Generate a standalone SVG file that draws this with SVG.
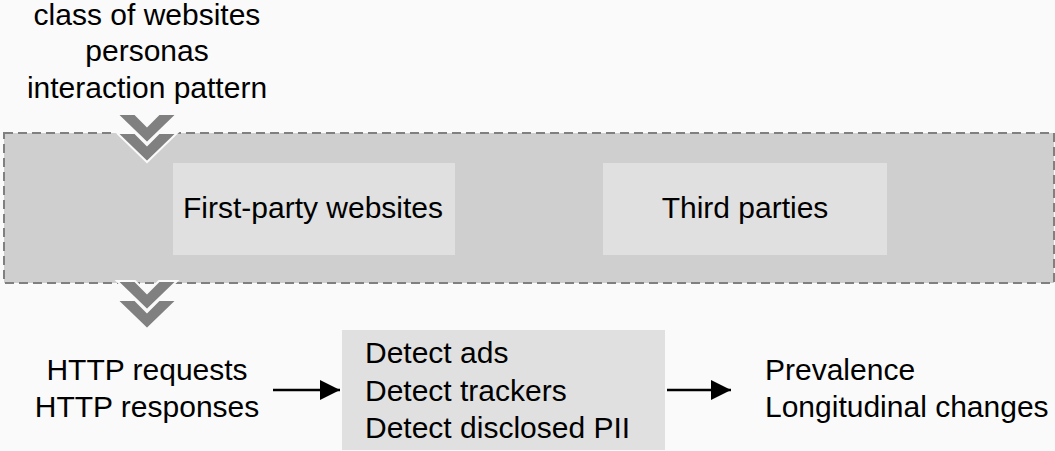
<svg xmlns="http://www.w3.org/2000/svg" width="1055" height="451" viewBox="0 0 1055 451">
<defs>
<style>
text{font-family:"Liberation Sans",Arial,sans-serif;font-size:30px;fill:#000}
.mid{text-anchor:middle}
.chev{fill:#808080;stroke:#fafafa;stroke-width:2}
.conn{stroke:#000;stroke-width:2.5;fill:none}
</style>
<marker id="ah" viewBox="0 0 10 10" refX="10" refY="5" markerWidth="20" markerHeight="20" markerUnits="userSpaceOnUse" orient="auto">
<path d="M0,0 L10,5 L0,10 Z" fill="#000"/>
</marker>
<polygon id="chevron" points="-30,0 -12,0 0,12 12,0 30,0 0,29"/>
</defs>
<rect width="1055" height="451" fill="#fafafa"/>
<g id="inputs">
<text class="mid" x="147" y="25">class of websites</text>
<text class="mid" x="147" y="61">personas</text>
<text class="mid" x="147" y="98">interaction pattern</text>
</g>
<g id="crawl">
<rect x="4" y="133" width="1050" height="150" fill="#cfcfcf" stroke="#808080" stroke-width="2" stroke-dasharray="9,5"/>
</g>
<g id="first-party">
<rect x="173" y="163" width="282" height="92" fill="#e0e0e0"/>
<text class="mid" x="313" y="218">First-party websites</text>
</g>
<g id="third-parties">
<rect x="603" y="163" width="284" height="92" fill="#e0e0e0"/>
<text class="mid" x="745" y="218">Third parties</text>
</g>
<g id="chevrons">
<use href="#chevron" class="chev" x="147" y="114"/>
<use href="#chevron" class="chev" x="147" y="133"/>
<use href="#chevron" class="chev" x="147" y="281"/>
<use href="#chevron" class="chev" x="147" y="300"/>
</g>
<g id="http">
<text class="mid" x="147" y="380">HTTP requests</text>
<text class="mid" x="147" y="417">HTTP responses</text>
</g>
<g id="detect">
<rect x="342" y="330" width="323" height="120" fill="#e0e0e0"/>
<text x="365" y="363">Detect ads</text>
<text x="365" y="401">Detect trackers</text>
<text x="365" y="438">Detect disclosed PII</text>
</g>
<g id="results">
<text x="765" y="380">Prevalence</text>
<text x="765" y="417">Longitudinal changes</text>
</g>
<g id="connectors">
<line class="conn" x1="273" y1="390" x2="340" y2="390" marker-end="url(#ah)"/>
<line class="conn" x1="667" y1="390" x2="731" y2="390" marker-end="url(#ah)"/>
</g>
</svg>
